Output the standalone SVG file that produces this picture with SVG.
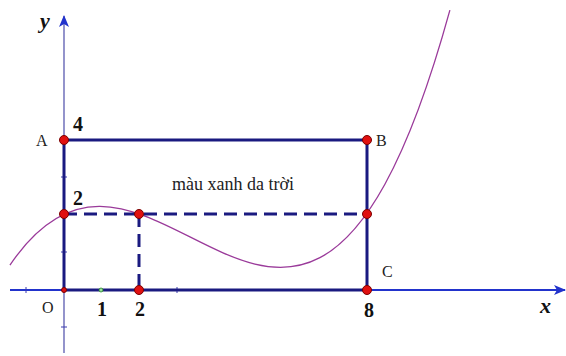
<svg xmlns="http://www.w3.org/2000/svg" width="566" height="356" viewBox="0 0 566 356">
<defs>
<style>
.lbl{font-family:"Liberation Serif","Times New Roman",serif;fill:#222;}
.num{font-family:"Liberation Serif","Times New Roman",serif;font-weight:bold;fill:#111;font-size:20px;text-anchor:middle;}
.ax{font-family:"Liberation Serif","Times New Roman",serif;font-weight:bold;font-style:italic;fill:#111;font-size:22px;}
.rect{stroke:#1a1a80;stroke-width:3;fill:none;}
.dash{stroke:#1a1a80;stroke-width:3;fill:none;stroke-dasharray:13 7;}
.dot{fill:#e01010;stroke:#7a0000;stroke-width:1;}
.tick{stroke:#3a3ab0;stroke-width:1;}
</style>
<marker id="arr" viewBox="0 0 12 10" refX="11" refY="5" markerWidth="12" markerHeight="10" markerUnits="userSpaceOnUse" orient="auto">
<path d="M0,0 L12,5 L0,10 L3,5 Z" fill="#2233cc"/>
</marker>
</defs>
<rect width="566" height="356" fill="#fff"/>
<g id="axes">
<line x1="64" y1="353" x2="64" y2="16" stroke="#5a5ab0" stroke-width="1.3" marker-end="url(#arr)"/>
<line x1="10" y1="290" x2="565" y2="290" stroke="#2233cc" stroke-width="2" marker-end="url(#arr)"/>
<line class="tick" x1="26" y1="287" x2="26" y2="293"/>
<line class="tick" x1="177" y1="287" x2="177" y2="293"/>
<line class="tick" x1="61" y1="252" x2="67" y2="252"/>
<line class="tick" x1="61" y1="327" x2="67" y2="327"/>
<line class="tick" x1="61" y1="177" x2="67" y2="177"/>
</g>
<g id="curve">
<path d="M9.95,265.1 C156.6,48.6 303.2,541.7 449.9,10.2" fill="none" stroke="#9a3a9a" stroke-width="1.3"/>
</g>
<g id="connectors">
<polyline class="rect" points="64,290 64,140 367,140 367,290 64,290"/>
<line class="dash" x1="64" y1="214" x2="367" y2="214"/>
<line class="dash" x1="139" y1="214" x2="139" y2="290"/>
</g>
<g id="points">
<circle class="dot" cx="64" cy="140" r="4.5"/>
<circle class="dot" cx="367" cy="140" r="4.5"/>
<circle class="dot" cx="64" cy="214" r="4.5"/>
<circle class="dot" cx="139" cy="214" r="4.5"/>
<circle class="dot" cx="367" cy="214" r="4.5"/>
<circle class="dot" cx="367" cy="290" r="4.5"/>
<circle class="dot" cx="139" cy="290" r="4.5"/>
<circle class="dot" cx="64" cy="290" r="2.5"/>
<circle cx="101" cy="290" r="2" fill="#9be09b" stroke="#2a8a2a" stroke-width="0.8"/>
</g>
<g id="labels">
<text class="ax" x="40" y="28">y</text>
<text class="ax" x="540" y="313">x</text>
<text class="lbl" x="36" y="146" font-size="16">A</text>
<text class="lbl" x="376" y="146" font-size="16">B</text>
<text class="lbl" x="382" y="277" font-size="16">C</text>
<text class="lbl" x="42" y="313" font-size="16">O</text>
<text class="num" x="78" y="131">4</text>
<text class="num" x="78" y="205">2</text>
<text class="num" x="102" y="316">1</text>
<text class="num" x="140" y="316">2</text>
<text class="num" x="369" y="317" font-size="21">8</text>
<text class="lbl" x="172" y="190" font-size="18">màu xanh da trời</text>
</g>
</svg>
